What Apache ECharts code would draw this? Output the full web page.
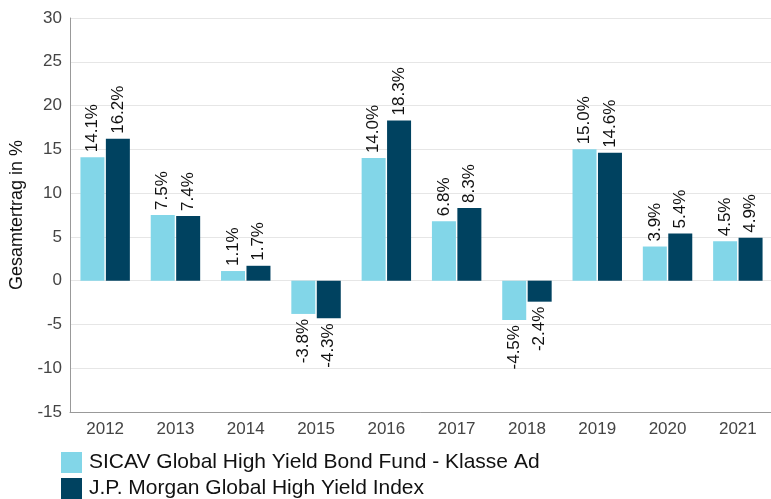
<!DOCTYPE html>
<html>
<head>
<meta charset="utf-8">
<script src="https://cdn.jsdelivr.net/npm/echarts@6/dist/echarts.min.js"></script>
<style>
  html, body { margin: 0; padding: 0; background: #fff; }
  #main { width: 771px; height: 499px; }
</style>
</head>
<body>
<div id="main"></div>
<script>
// Daten
var years = ['2012', '2013', '2014', '2015', '2016', '2017', '2018', '2019', '2020', '2021'];
var fundValues = [14.1, 7.5, 1.1, -3.8, 14.0, 6.8, -4.5, 15.0, 3.9, 4.5];
var indexValues = [16.2, 7.4, 1.7, -4.3, 18.3, 8.3, -2.4, 14.6, 5.4, 4.9];
var seriesNames = ['SICAV Global High Yield Bond Fund - Klasse Ad', 'J.P. Morgan Global High Yield Index'];
var yTicks = [-15, -10, -5, 0, 5, 10, 15, 20, 25, 30];

var fontFam = '"Liberation Sans", Arial, sans-serif';

// Beschriftung oberhalb / unterhalb der Balken
function withLabels(values) {
    return values.map(function (v) {
        return {
            value: v,
            label: v < 0
                ? { position: 'bottom', align: 'right' }
                : { position: 'top', align: 'left' }
        };
    });
}

var myChart = echarts.init(document.getElementById('main'));

var labelStyle = {
    show: true,
    rotate: 90,
    verticalAlign: 'middle',
    distance: 5,
    color: '#111',
    fontSize: 17,
    fontFamily: fontFam,
    formatter: function (p) { return p.value.toFixed(1) + '%'; }
};

var legendBase = {
    left: 56,
    itemWidth: 21,
    itemHeight: 21,
    icon: 'rect',
    textStyle: { fontSize: 21, color: '#111', fontFamily: fontFam, padding: [0, 0, 0, 2] }
};

var option = {
    animation: false,
    grid: { left: 70, right: -2, top: 18, bottom: 87, outerBoundsMode: 'none', containLabel: false },
    legend: [
        Object.assign({}, legendBase, { top: 447, data: [seriesNames[0]] }),
        Object.assign({}, legendBase, { top: 473, data: [seriesNames[1]] })
    ],
    xAxis: {
        type: 'category',
        data: years,
        axisLine: { onZero: false, lineStyle: { color: '#999' } },
        axisTick: { show: false },
        axisLabel: { color: '#444', fontSize: 17, fontFamily: fontFam, margin: 9 }
    },
    yAxis: {
        type: 'value',
        min: yTicks[0],
        max: yTicks[yTicks.length - 1],
        interval: 5,
        name: 'Gesamtertrag in %',
        nameLocation: 'middle',
        nameGap: 44,
        nameTextStyle: { fontSize: 18, color: '#111', fontFamily: fontFam },
        axisLine: { show: true, lineStyle: { color: '#999' } },
        axisTick: { show: false },
        axisLabel: { color: '#444', fontSize: 17, fontFamily: fontFam, margin: 8 },
        splitLine: { lineStyle: { color: '#e6e6e6' } }
    },
    series: [{
        name: seriesNames[0],
        type: 'bar',
        barWidth: 24,
        barGap: '6%',
        itemStyle: { color: '#82d6e8' },
        label: labelStyle,
        data: withLabels(fundValues)
    }, {
        name: seriesNames[1],
        type: 'bar',
        barWidth: 24,
        barGap: '6%',
        itemStyle: { color: '#004260' },
        label: labelStyle,
        data: withLabels(indexValues)
    }]
};

myChart.setOption(option);
</script>
</body>
</html>
